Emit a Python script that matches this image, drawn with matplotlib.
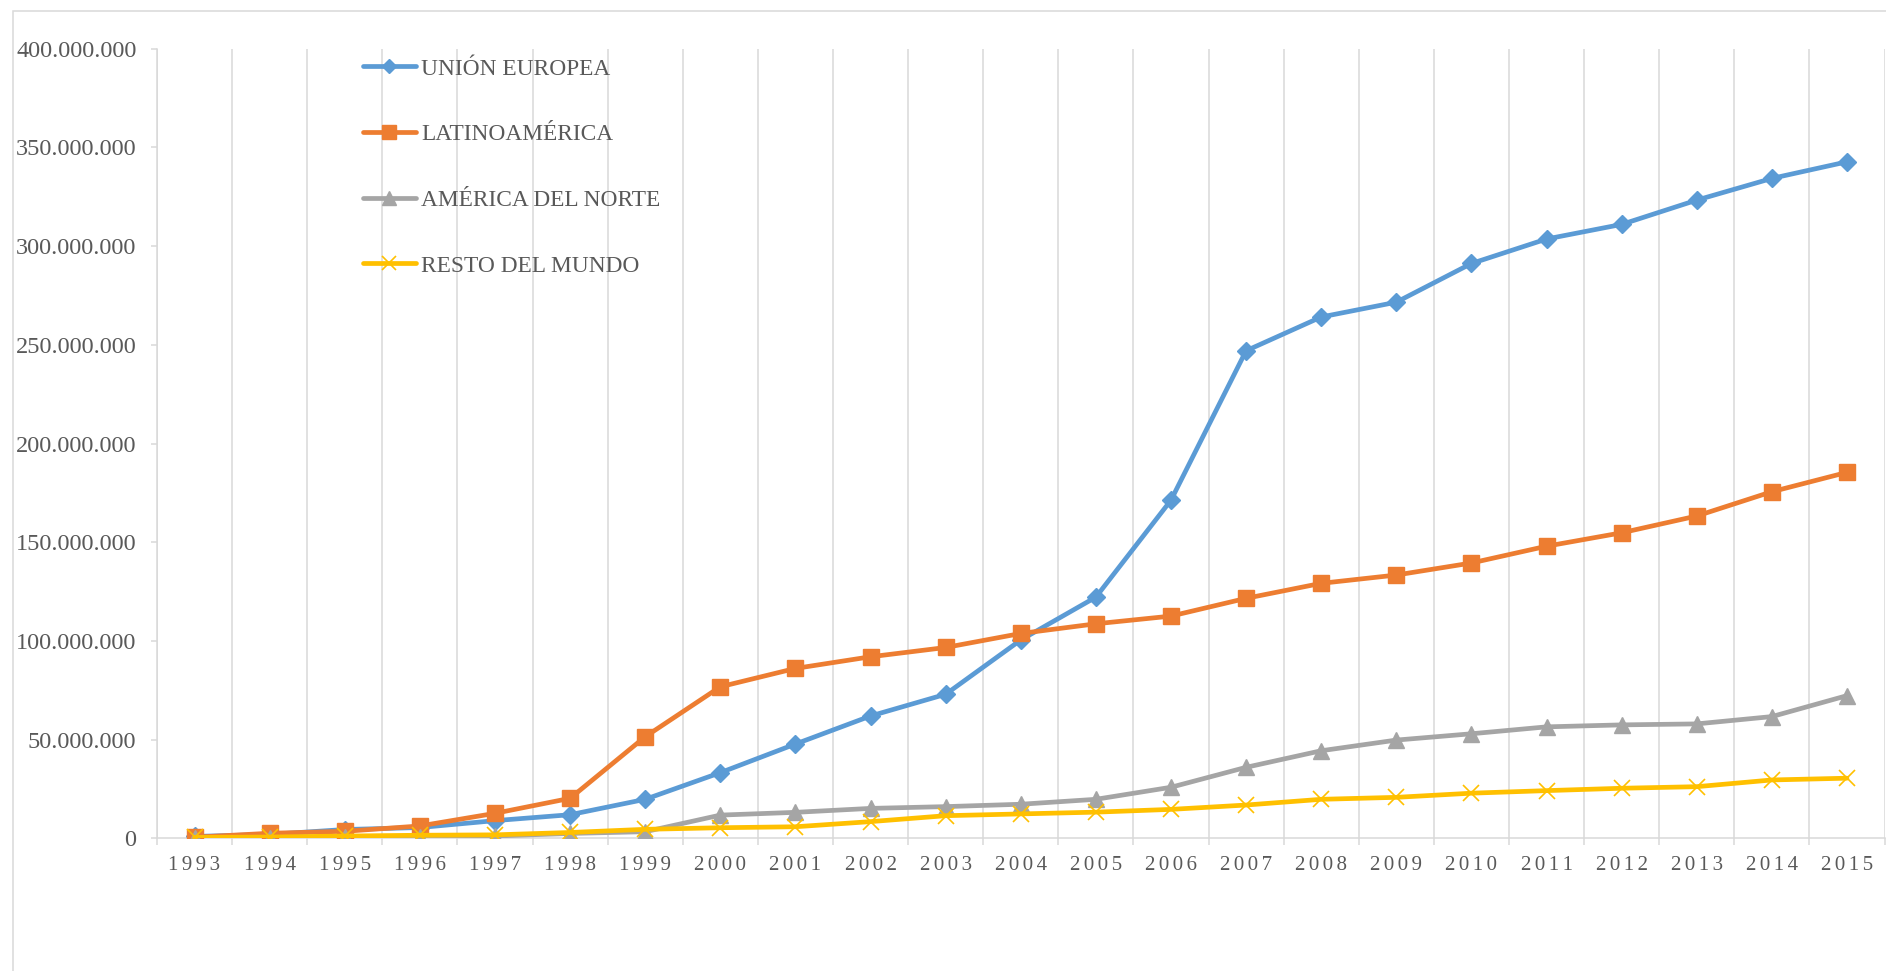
import numpy as np
import matplotlib
matplotlib.use("Agg")
import matplotlib.pyplot as plt
from matplotlib.patches import Rectangle
from matplotlib.ticker import FuncFormatter

# años y series (valores en millones)
years = [str(y) for y in range(1993, 2016)]

union_europea = [1.0, 2.0, 4.5, 5.5, 9.0, 12.0, 19.8, 33.3, 47.8, 62.0, 73.0, 100.5,
                 122.2, 171.3, 247.0, 264.1, 271.6, 291.2, 303.6, 311.0, 323.3, 334.3, 342.7]
latinoamerica = [0.6, 2.6, 3.6, 6.3, 12.7, 20.3, 51.5, 76.8, 86.1, 92.0, 96.7, 103.8,
                 108.7, 112.6, 121.6, 129.2, 133.4, 139.5, 148.0, 154.8, 163.3, 175.6, 185.4]
america_norte = [0.2, 0.4, 0.6, 0.9, 1.2, 2.5, 3.4, 11.8, 13.2, 15.2, 16.1, 17.3,
                 19.8, 25.9, 36.0, 44.4, 49.8, 53.0, 56.5, 57.5, 58.0, 61.7, 72.3]
resto_mundo = [0.5, 0.7, 1.2, 1.6, 1.8, 3.0, 4.6, 5.4, 5.9, 8.5, 11.5, 12.4,
               13.3, 14.7, 16.9, 19.8, 20.8, 22.9, 24.2, 25.4, 26.2, 29.6, 30.5]

series_names = ["UNIÓN EUROPEA", "LATINOAMÉRICA", "AMÉRICA DEL NORTE", "RESTO DEL MUNDO"]

plt.rcParams["font.family"] = ["Liberation Serif", "DejaVu Serif"]

W, H = 1886, 971
fig = plt.figure(figsize=(W / 100, H / 100), dpi=100)
ax = fig.add_axes([157 / W, (H - 838.4) / H, (1884.5 - 157) / W, (838.4 - 48.7) / H])

grid_col = "#d9d9d9"
text_col = "#595959"

# marco exterior del gráfico
fig.add_artist(Rectangle((12.5 / W, -0.5), 2, (H - 11) / H + 0.5, transform=fig.transFigure,
                         fill=False, edgecolor=grid_col, linewidth=1.1))

x = np.arange(len(years))
styles = [
    (union_europea, "#5B9BD5", "D", 9.3, 1.0),
    (latinoamerica, "#ED7D31", "s", 11.8, 1.0),
    (america_norte, "#A5A5A5", "^", 11.8, 1.0),
    (resto_mundo, "#FFC000", "x", 12.0, 1.2),
]
for i, (vals, col, mk, ms, mew) in enumerate(styles):
    ax.plot(x, np.array(vals) * 1e6, color=col, linewidth=3.4, marker=mk, markersize=ms,
            markeredgewidth=mew, markerfacecolor=col, markeredgecolor=col,
            label=series_names[i], zorder=3 + i, solid_capstyle="round")

ax.set_xlim(-0.5, len(years) - 0.5)
ax.set_ylim(0, 400e6)
ax.set_yticks(np.arange(0, 400e6 + 1, 50e6))
ax.yaxis.set_major_formatter(FuncFormatter(lambda v, p: f"{int(round(v)):,}".replace(",", ".")))

ax.set_xticks(x)
ax.set_xticklabels(["\u2006".join(y) for y in years])
ax.set_xticks(np.arange(-0.5, len(years), 1), minor=True)
ax.grid(True, which="minor", axis="x", color=grid_col, linewidth=1.1)
ax.grid(False, which="major")

for s in ["top", "right"]:
    ax.spines[s].set_visible(False)
for s in ["left", "bottom"]:
    ax.spines[s].set_color(grid_col)
    ax.spines[s].set_linewidth(1.1)

ax.tick_params(axis="x", which="major", length=0, pad=13, labelsize=15, labelcolor=text_col)
ax.tick_params(axis="x", which="minor", length=5, width=1.1, color=grid_col)
ax.tick_params(axis="y", which="major", length=4.3, width=1.1, color=grid_col,
               pad=10.5, labelsize=17.5, labelcolor=text_col)

leg = ax.legend(loc="upper left", bbox_to_anchor=(362.7 / W, 1 - (66.7 - 8.5) / H),
                bbox_transform=fig.transFigure, frameon=False, fontsize=16.8,
                handlelength=2.29, handletextpad=0.21, labelspacing=1.9,
                borderpad=0, borderaxespad=0, numpoints=1, markerscale=0.8)
for t in leg.get_texts():
    t.set_color(text_col)

fig.savefig("out.png", dpi=100)
